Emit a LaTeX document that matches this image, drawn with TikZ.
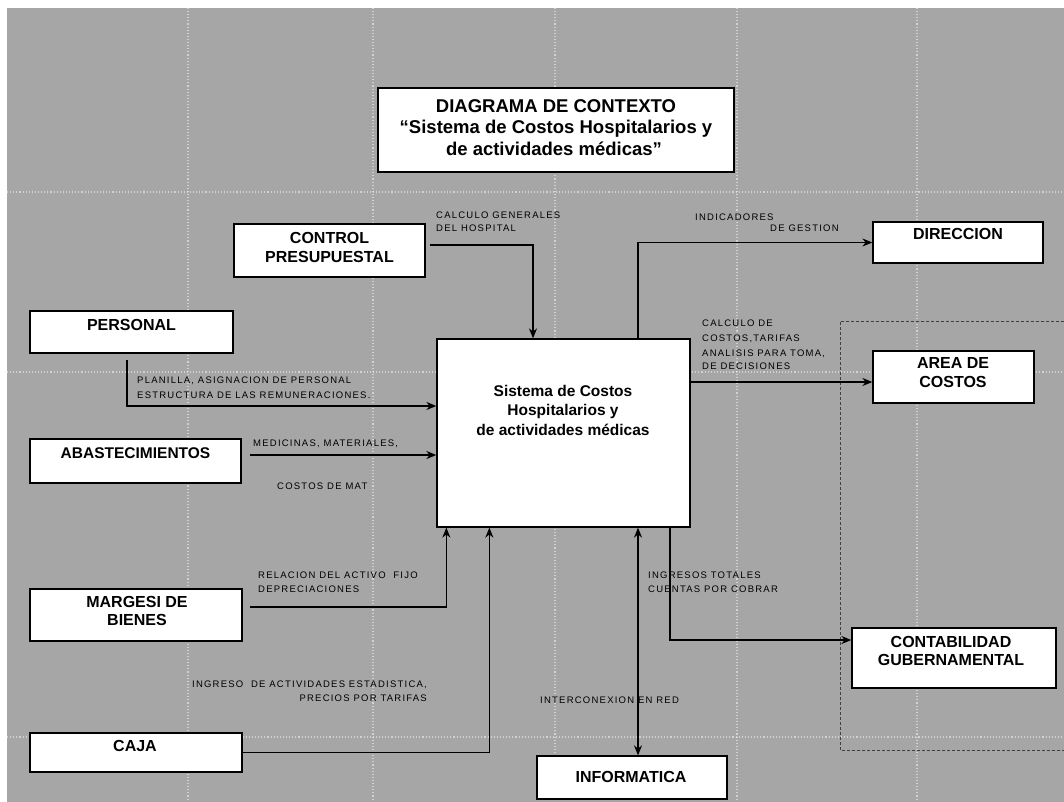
\documentclass[tikz,border=0pt]{standalone}
\usepackage{fontspec}
\setmainfont{Liberation Sans}
\newfontfamily\labfont[LetterSpace=13]{Liberation Sans}
\usetikzlibrary{arrows.meta,calc}
\definecolor{bggray}{RGB}{166,166,166}
\tikzset{
  box/.style={draw=black, line width=1.3pt, fill=white, inner sep=0pt},
  btext/.style={font=\bfseries\fontsize{16}{19}\selectfont, inner sep=0pt, anchor=base},
  stext/.style={font=\bfseries\fontsize{15.5}{19}\selectfont, inner sep=0pt, anchor=base},
  ttext/.style={font=\bfseries\fontsize{18.5}{21}\selectfont, inner sep=0pt, anchor=base},
  lab/.style={font=\labfont\fontsize{9.5}{12}\selectfont, inner sep=0pt, anchor=base west},
  labr/.style={font=\labfont\fontsize{9.5}{12}\selectfont, inner sep=0pt, anchor=base east},
  conn/.style={line width=1.3pt, -{Stealth[length=10pt,width=8pt]}},
  conn2/.style={line width=1.3pt, {Stealth[length=10pt,width=8pt]}-{Stealth[length=10pt,width=8pt]}},
  gridline/.style={white, line width=1.1pt, dotted, opacity=0.5},
  frameline/.style={black!75, line width=0.8pt, dash pattern=on 3pt off 2pt},
}
\begin{document}
\begin{tikzpicture}[x=1pt,y=-1pt]
\useasboundingbox (0,0) rectangle (1064,802);
\fill[white] (0,0) rectangle (1064,802);
\fill[bggray] (7,8) rectangle (1064,802);
% faint grid
\foreach \gx in {188,373,555,737,917} \draw[gridline] (\gx,8) -- (\gx,802);
\foreach \gy in {192,372,737} \draw[gridline] (7,\gy) -- (1064,\gy);
% dashed frame on the right
\draw[frameline] (1064,321) -- (840,321) -- (840,750) -- (1064,750);

% boxes
\node[box, minimum width=356pt, minimum height=84pt] (title) at (556,130) {};
\node[box, minimum width=191pt, minimum height=53pt] (ctrl) at (329.5,250.5) {};
\node[box, minimum width=170pt, minimum height=41pt] (dir) at (958,242.5) {};
\node[box, minimum width=203pt, minimum height=42pt] (pers) at (131.5,332) {};
\node[box, minimum width=161pt, minimum height=52pt] (area) at (953.5,377) {};
\node[box, minimum width=211pt, minimum height=44pt] (abas) at (135.5,461) {};
\node[box, minimum width=253pt, minimum height=188pt] (sys) at (563.5,433) {};
\node[box, minimum width=212pt, minimum height=52pt] (marg) at (136,615) {};
\node[box, minimum width=204pt, minimum height=60pt] (conta) at (954,658) {};
\node[box, minimum width=212pt, minimum height=39pt] (caja) at (136,752.5) {};
\node[box, minimum width=190pt, minimum height=43pt] (info) at (632,777.5) {};

% box texts
\node[ttext] (t1) at (556,112.5) {DIAGRAMA DE CONTEXTO};
\node[ttext] (t2) at (556,134) {“Sistema de Costos Hospitalarios y};
\node[ttext] (t3) at (554,156) {de actividades médicas”};
\node[btext] (ctrl1) at (329.5,243.7) {CONTROL};
\node[btext] (ctrl2) at (329.5,262.7) {PRESUPUESTAL};
\node[btext] (dir1) at (958,239.7) {DIRECCION};
\node[btext] (pers1) at (131.5,330.7) {PERSONAL};
\node[btext] (area1) at (953,368.7) {AREA DE};
\node[btext] (area2) at (953,387.7) {COSTOS};
\node[stext] (abas1) at (135.5,458.5) {ABASTECIMIENTOS};
\node[btext] (marg1) at (137,607.7) {MARGESI DE};
\node[btext] (marg2) at (137,625.7) {BIENES};
\node[btext] (conta1) at (951,647.7) {CONTABILIDAD};
\node[btext] (conta2) at (951,665.7) {GUBERNAMENTAL};
\node[btext] (caja1) at (135,751.7) {CAJA};
\node[btext] (info1) at (631,782.7) {INFORMATICA};
\node[stext] (sys1) at (563,396.7) {Sistema de Costos};
\node[stext] (sys2) at (563,415.7) {Hospitalarios y};
\node[stext] (sys3) at (563,435.7) {de actividades médicas};

% helper coordinates
\coordinate (xc) at (533,0);
\coordinate (xd) at (638,0);
\coordinate (xg) at (670,0);
\coordinate (c0) at (430,245);
\coordinate (p0) at (127,360);
\coordinate (yp) at (0,406);
\coordinate (a0) at (250,455);
\coordinate (m0) at (250,607);
\coordinate (ya) at (0,382);
\coordinate (yg) at (0,640);

% connectors
\draw[conn] (c0) -| (xc |- sys.north);
\draw[conn] (xd |- sys.north) |- (dir.west);
\draw[conn] (p0) |- (sys.west |- yp);
\draw[conn] (a0) -- (sys.west |- a0);
\draw[conn] (m0) -| ([xshift=10pt]sys.south west);
\draw[conn] (caja.east) -| ([xshift=53pt]sys.south west);
\draw[conn2] (xd |- sys.south) -- (xd |- info.north);
\draw[conn] (xg |- sys.south) |- (conta.west |- yg);
\draw[conn] (sys.east |- ya) -- (area.west |- ya);

% connector labels
\node[lab] (l1a) at (436,218.4) {CALCULO GENERALES};
\node[lab] (l1b) at (436,231.4) {DEL HOSPITAL};
\node[lab] (l2a) at (695,220.4) {INDICADORES};
\node[lab] (l2b) at (770,231.4) {DE GESTION};
\node[lab] (l3a) at (137,383.4) {PLANILLA, ASIGNACION DE PERSONAL};
\node[lab] (l3b) at (137,398.4) {ESTRUCTURA DE LAS REMUNERACIONES.};
\node[lab] (l4a) at (253,446.4) {MEDICINAS, MATERIALES,};
\node[lab] (l4b) at (277,489.4) {COSTOS DE MAT};
\node[lab] (l5a) at (258,578.4) {RELACION DEL ACTIVO\ \ FIJO};
\node[lab] (l5b) at (258,592.4) {DEPRECIACIONES};
\node[labr] (l6a) at (427,687.4) {INGRESO\ \ DE ACTIVIDADES ESTADISTICA,};
\node[labr] (l6b) at (427,701.4) {PRECIOS POR TARIFAS};
\node[lab] (l7a) at (702,326.4) {CALCULO DE};
\node[lab] (l7b) at (702,341.4) {COSTOS,TARIFAS};
\node[lab] (l7c) at (702,356.4) {ANALISIS PARA TOMA,};
\node[lab] (l7d) at (702,369.4) {DE DECISIONES};
\node[lab] (l8a) at (648,578.4) {INGRESOS TOTALES};
\node[lab] (l8b) at (648,592.4) {CUENTAS POR COBRAR};
\node[lab] (l9) at (540,703.4) {INTERCONEXION EN RED};
\end{tikzpicture}
\end{document}
